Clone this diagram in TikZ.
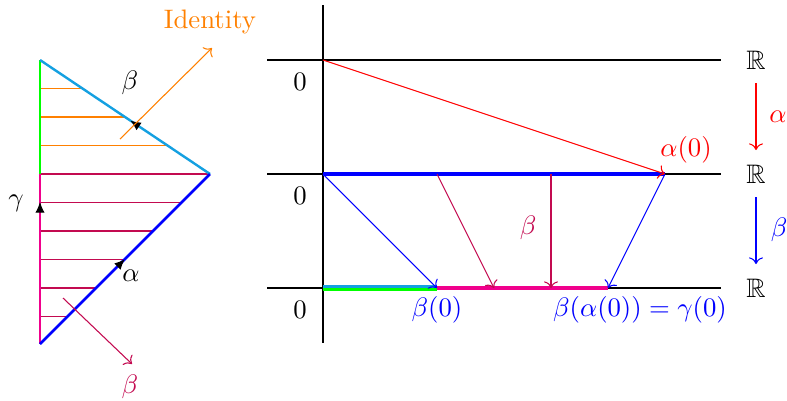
\documentclass[tikz,border=0pt]{standalone}
\usepackage{amsmath,amssymb}
\usetikzlibrary{decorations.markings,arrows.meta}
\definecolor{mymag}{RGB}{240,0,140}
\definecolor{mycyan}{RGB}{20,160,225}
\definecolor{mypurple}{RGB}{195,10,80}
\tikzset{
  axisline/.style={black,line width=0.4pt},
  midarrow/.style={decoration={markings,mark=at position #1 with {\arrow[black]{Latex[length=4pt,width=3.5pt]}}},postaction={decorate}},
  thinarrow/.style={->,line width=0.4pt},
  lbl/.style={inner sep=0pt},
}
\begin{document}
\begin{tikzpicture}[x=0.0131579cm,y=-0.0131579cm]
\useasboundingbox (0,0) rectangle (787,400);
% ---------- left triangle ----------
\coordinate (T) at (40,60);
\coordinate (R) at (210,174);
\coordinate (B) at (40,344);
\coordinate (M) at (40,174);
% hatch lines (upper, orange)
\foreach \y/\xe in {88.5/82.5,117/125,145.5/167.5}{
  \draw[orange,line width=0.4pt] (40,\y) -- (\xe,\y);
}
% hatch lines (lower, purple)
\foreach \y/\xe in {174/210,202.5/181.5,231/153,259.5/124.5,288/96,316.5/67.5}{
  \draw[mypurple,line width=0.4pt] (40,\y) -- (\xe,\y);
}
\draw[green,line width=0.8pt] (T) -- (M);
\draw[mymag,line width=0.8pt] (M) -- (B);
\path[midarrow=0.5] (B) -- (T);
\draw[mycyan,line width=0.9pt,midarrow=0.47] (R) -- (T);
\draw[blue,line width=1pt,midarrow=0.5] (B) -- (R);
% orange identity arrow
\coordinate (id1) at (120,139);
\coordinate (id2) at (212,48);
\draw[orange,thinarrow] (id1) -- (id2);
\node[lbl,orange] (idl) at (210,22) {Identity};
% purple beta arrow
\coordinate (pb1) at (63,298);
\coordinate (pb2) at (132,364);
\draw[mypurple,thinarrow] (pb1) -- (pb2);
\node[lbl,mypurple] (pbl) at (130,387) {$\beta$};
\node[lbl] (lbeta) at (130,83) {$\beta$};
\node[lbl] (lgamma) at (16,203) {$\gamma$};
\node[lbl] (lalpha) at (131,276) {$\alpha$};
% ---------- right diagram ----------
\coordinate (O1) at (323,60);
\coordinate (O2) at (323,174);
\coordinate (O3) at (323,288);
\coordinate (L1) at (267,60);
\coordinate (L2) at (267,174);
\coordinate (L3) at (267,288);
\coordinate (E1) at (721,60);
\coordinate (E2) at (721,174);
\coordinate (E3) at (721,288);
\coordinate (Atop) at (323,5);
\coordinate (Abot) at (323,343);
\draw[axisline] (Atop) -- (Abot);
\draw[axisline] (L1) -- (E1);
\draw[axisline] (L2) -- (E2);
\draw[axisline] (L3) -- (E3);
\node[lbl] (z1) at (300,82) {$0$};
\node[lbl] (z2) at (300,196) {$0$};
\node[lbl] (z3) at (300,310) {$0$};
\node[lbl] (R1) at (756,60) {$\mathbb{R}$};
\node[lbl] (R2) at (756,174) {$\mathbb{R}$};
\node[lbl] (R3) at (756,288) {$\mathbb{R}$};
\draw[red,thinarrow] (756,83) -- (756,150);
\node[lbl,red] (ral) at (778,117) {$\alpha$};
\draw[blue,thinarrow] (756,197) -- (756,264);
\node[lbl,blue] (rbe) at (779,230) {$\beta$};
% points
\coordinate (a0) at (665,174);
\coordinate (m1) at (437,174);
\coordinate (m2) at (551,174);
\coordinate (b0) at (437,288);
\coordinate (p1) at (494,288);
\coordinate (p2) at (551,288);
\coordinate (ba) at (608,288);
% thick segments
\draw[blue,line width=1.5pt] (O2) -- (a0);
\draw[mycyan,line width=1.05pt] (323,286.3) -- (437,286.3);
\draw[green,line width=1.05pt] (323,289.3) -- (437,289.3);
\draw[mymag,line width=1.5pt] (b0) -- (ba);
% arrows
\draw[red,thinarrow] (O1) -- (a0);
\draw[blue,thinarrow] (O2) -- (b0);
\draw[blue,thinarrow] (a0) -- (ba);
\draw[mypurple,thinarrow] (m1) -- (p1);
\draw[mypurple,thinarrow] (m2) -- (p2);
\node[lbl,red] (la0) at (686,150) {$\alpha(0)$};
\node[lbl,mypurple] (lmb) at (528,228) {$\beta$};
\node[lbl,blue] (lb0) at (437,310) {$\beta(0)$};
\node[lbl,blue] (lbag) at (640,310) {$\beta(\alpha(0))=\gamma(0)$};
\end{tikzpicture}
\end{document}
